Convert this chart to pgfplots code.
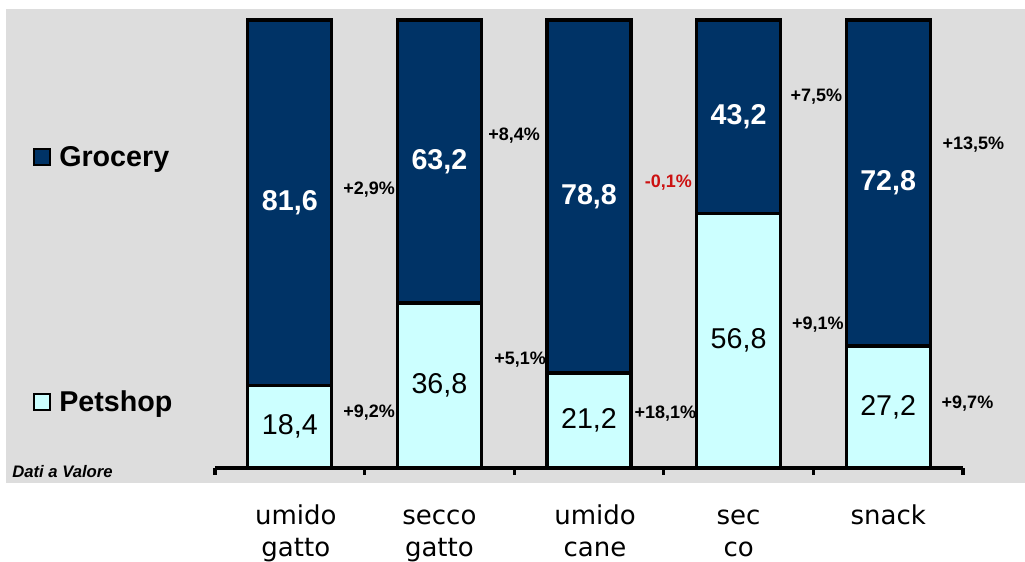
\documentclass[border=0pt]{standalone}
\usepackage{pgfplots}
\pgfplotsset{compat=1.18}
\usepackage{fontspec}
\setmainfont{Liberation Sans}
\newfontfamily\catfont{DejaVu Sans}
\definecolor{navy}{HTML}{003366}
\definecolor{lcyan}{HTML}{CCFFFF}
\definecolor{bggrey}{HTML}{DDDDDD}
\definecolor{pred}{HTML}{CC1111}
\tikzset{
  vpet/.style={font=\fontsize{21.5}{24}\selectfont, inner sep=0pt},
  vgro/.style={text=white, font=\bfseries\fontsize{21.5}{24}\selectfont, inner sep=0pt},
  gr/.style={font=\bfseries\fontsize{13.5}{15}\selectfont, inner sep=0pt},
}
\begin{document}
\begin{tikzpicture}[x=0.75pt,y=0.75pt]
\fill[bggrey] (6,78) rectangle (1025,552);
\begin{axis}[
  at={(161.25pt,69.75pt)}, anchor=south west,
  scale only axis, width=561pt, height=336pt,
  xmin=-0.5, xmax=4.5, ymin=0, ymax=100,
  ybar stacked, bar width=63pt,
  axis x line*=bottom, axis y line=none,
  axis line style={line width=2.5pt, black},
  xtick={-0.5,0.5,1.5,2.5,3.5,4.5}, xticklabels={},
  tick align=outside, major tick length=5pt,
  xtick style={line width=2.5pt, black},
  extra x ticks={0.04,1,2.04,3,4},
  extra x tick labels={\strut umido\\gatto, \strut secco\\gatto, \strut umido\\cane, \strut sec\\co, \strut snack},
  extra x tick style={major tick length=0pt, tick style={draw=none}},
  xticklabel style={align=center, anchor=north, inner sep=0pt, yshift=-24.7pt,
    font=\catfont\fontsize{19.5}{24.5}\selectfont},
  clip=false,
]
\addplot[fill=lcyan, draw=black, line width=2.5pt] coordinates {(0,18.4) (1,36.8) (2,21.2) (3,56.8) (4,27.2)};
\addplot[fill=navy, draw=black, line width=2.5pt] coordinates {(0,81.6) (1,63.2) (2,78.8) (3,43.2) (4,72.8)};
\coordinate (p0) at (axis cs:0,9.2);
\coordinate (p1) at (axis cs:1,18.4);
\coordinate (p2) at (axis cs:2,10.6);
\coordinate (p3) at (axis cs:3,28.4);
\coordinate (p4) at (axis cs:4,13.6);
\coordinate (g0) at (axis cs:0,59.2);
\coordinate (g1) at (axis cs:1,68.4);
\coordinate (g2) at (axis cs:2,60.6);
\coordinate (g3) at (axis cs:3,78.4);
\coordinate (g4) at (axis cs:4,63.6);
\node[gr] at (axis cs:0.53,62.1) {+2,9\%};
\node[gr] at (axis cs:0.53,12.3) {+9,2\%};
\node[gr] at (axis cs:1.50,74.3) {+8,4\%};
\node[gr] at (axis cs:1.54,24.1) {+5,1\%};
\node[gr, text=pred] at (axis cs:2.53,63.6) {-0,1\%};
\node[gr] at (axis cs:2.51,12.05) {+18,1\%};
\node[gr] at (axis cs:3.52,83.0) {+7,5\%};
\node[gr] at (axis cs:3.53,31.9) {+9,1\%};
\node[gr] at (axis cs:4.57,72.1) {+13,5\%};
\node[gr] at (axis cs:4.53,14.3) {+9,7\%};
\end{axis}
\node[vpet] at (p0) {18,4};
\node[vpet] at (p1) {36,8};
\node[vpet] at (p2) {21,2};
\node[vpet] at (p3) {56,8};
\node[vpet] at (p4) {27,2};
\node[vgro] at (g0) {81,6};
\node[vgro] at (g1) {63,2};
\node[vgro] at (g2) {78,8};
\node[vgro] at (g3) {43,2};
\node[vgro] at (g4) {72,8};
\draw[fill=navy, draw=black, line width=1.5pt] (33.5,395.5) rectangle (49.5,411.5);
\node[anchor=base west, inner sep=0pt, font=\bfseries\fontsize{21.5}{24}\selectfont] at (59,394) {Grocery};
\draw[fill=lcyan, draw=black, line width=1.5pt] (33.5,150.5) rectangle (49.5,166.5);
\node[anchor=base west, inner sep=0pt, font=\bfseries\fontsize{21.5}{24}\selectfont] at (59,149) {Petshop};
\node[anchor=base west, inner sep=0pt, font=\bfseries\itshape\fontsize{12.5}{14}\selectfont] at (12,84) {Dati a Valore};
\pgfresetboundingbox
\path[use as bounding box] (0,0) rectangle (1025,561);
\end{tikzpicture}
\end{document}
